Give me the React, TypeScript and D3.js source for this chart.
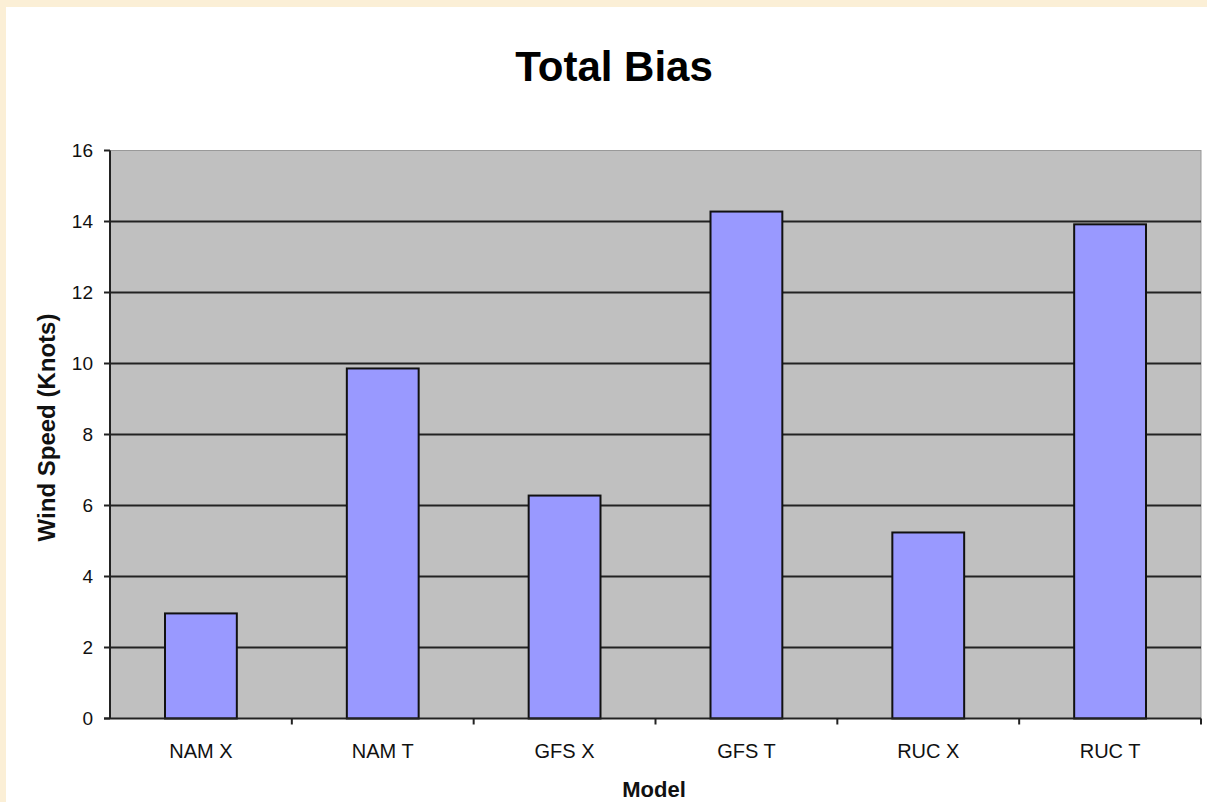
import React from "react";
import * as d3 from "d3";

const categories = ["NAM X", "NAM T", "GFS X", "GFS T", "RUC X", "RUC T"];
const values = [2.96, 9.86, 6.28, 14.28, 5.24, 13.92];
const yTicks = [0, 2, 4, 6, 8, 10, 12, 14, 16];

export default function App() {
  const W = 1207, H = 802;
  const left = 110, right = 1201, top = 150.5, bottom = 718.5;
  const x = d3.scaleBand<string>().domain(categories).range([left, right]).paddingInner(0).paddingOuter(0);
  const y = d3.scaleLinear().domain([0, 16]).range([bottom, top]);
  const bw = x.bandwidth() * 0.395;
  const font = "'Liberation Sans', Arial, sans-serif";
  return (
    <svg width={W} height={H} style={{ position: "absolute", left: 0, top: 0 }}>
      <rect x={0} y={0} width={W} height={H} fill="#fbefd6" />
      <rect x={6} y={7} width={W - 6} height={H - 7} fill="#ffffff" />
      <rect x={left} y={top} width={right - left} height={bottom - top} fill="#c0c0c0" stroke="#999" strokeWidth={1} />
      {yTicks.filter(t => t > 0 && t < 16).map(t => (
        <line key={t} x1={left} x2={right} y1={y(t)} y2={y(t)} stroke="#222" strokeWidth={2} />
      ))}
      {categories.map((c, i) => {
        const cx = (x(c) as number) + x.bandwidth() / 2;
        return (
          <rect key={c} x={cx - bw / 2} y={y(values[i])} width={bw} height={bottom - y(values[i])}
            fill="#9999ff" stroke="#111" strokeWidth={2} />
        );
      })}
      <line x1={left} x2={left} y1={top} y2={bottom} stroke="#222" strokeWidth={2} />
      <line x1={left - 6} x2={right} y1={bottom} y2={bottom} stroke="#222" strokeWidth={2} />
      {yTicks.map(t => (
        <g key={t}>
          <line x1={left - 6} x2={left} y1={y(t)} y2={y(t)} stroke="#222" strokeWidth={2} />
          <text x={left - 17} y={y(t)} dy="0.36em" textAnchor="end" fontFamily={font} fontSize={19} fill="#111">{t}</text>
        </g>
      ))}
      {categories.map((c, i) => (
        <line key={"t" + c} x1={(x(c) as number) + x.bandwidth()} x2={(x(c) as number) + x.bandwidth()} y1={bottom} y2={bottom + 6} stroke="#222" strokeWidth={2} />
      ))}
      {categories.map(c => (
        <text key={"l" + c} x={(x(c) as number) + x.bandwidth() / 2} y={758} textAnchor="middle" fontFamily={font} fontSize={20} fill="#111">{c}</text>
      ))}
      <text x={614} y={81} textAnchor="middle" fontFamily={font} fontSize={42} fontWeight="bold" fill="#000">Total Bias</text>
      <text x={654} y={797} textAnchor="middle" fontFamily={font} fontSize={22} fontWeight="bold" fill="#111">Model</text>
      <text transform={`translate(55,${(top + bottom) / 2 - 7}) rotate(-90)`} textAnchor="middle" fontFamily={font} fontSize={24} fontWeight="bold" fill="#111">Wind Speed (Knots)</text>
    </svg>
  );
}
